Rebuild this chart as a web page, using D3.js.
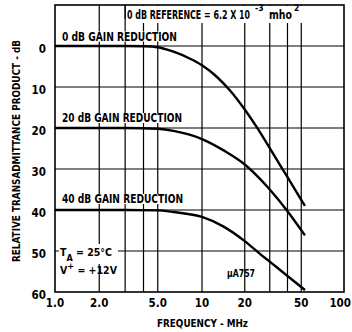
<!DOCTYPE html>
<html><head><meta charset="utf-8">
<script src="https://cdn.jsdelivr.net/npm/d3@7/dist/d3.min.js"></script>
<style>
html,body{margin:0;padding:0;background:#fff;}
svg{display:block;}
text{font-family:"Liberation Sans Narrow","DejaVu Sans Condensed","Arial Narrow",sans-serif;font-weight:bold;fill:#000;}
</style></head>
<body><svg id="c" width="352" height="332"></svg>
<script>
// ---- data ----
const xTicks = [1, 2, 5, 10, 20, 50, 100];
const xTickLabels = ["1.0", "2.0", "5.0", "10", "20", "50", "100"];
const xGrid = [2, 3, 4, 5, 10, 20, 30, 40, 50];
const yTicks = [0, 10, 20, 30, 40, 50, 60];
const yGrid = [0, 10, 20, 30, 40, 50];

const freq0 = [1, 3, 4, 5, 6.4, 8.3, 10, 12.7, 15.7, 20, 24.3, 30, 40, 53.1];
const db0   = [0, 0, 0.05, 0.3, 1.4, 3.1, 4.7, 7.5, 10.8, 15.5, 19.8, 24.9, 32.0, 39.0];
const freq20 = [1, 3, 5, 6.4, 10, 14.1, 20, 25.6, 30, 40, 53.1];
const db20   = [20, 20, 20.2, 20.7, 22.7, 25.4, 28.9, 32.4, 35.0, 40.3, 46.2];
const freq40 = [1, 3, 5, 6.4, 10, 14.1, 20, 25.6, 30, 40, 53.1];
const db40   = [40, 40, 40.1, 40.5, 41.7, 44.0, 47.6, 50.7, 52.6, 56.1, 59.5];

const curveLabels = ["0 dB GAIN REDUCTION", "20 dB GAIN REDUCTION", "40 dB GAIN REDUCTION"];

// ---- layout ----
const svg = d3.select("#c");
const L = 55, R = 344, T = 5, B = 292;
const x = d3.scaleLog().domain([1, 10, 100]).range([L, 202, R]);
const y = d3.scaleLinear().domain([-10, 60]).range([T, B]);

// grid
const g = svg.append("g");
g.selectAll("line.v").data(xGrid).enter().append("line")
  .attr("x1", d => x(d)).attr("x2", d => x(d)).attr("y1", T).attr("y2", B)
  .attr("stroke", "#000").attr("stroke-width", 1.2);
g.selectAll("line.h").data(yGrid).enter().append("line")
  .attr("x1", L).attr("x2", R).attr("y1", d => y(d)).attr("y2", d => y(d))
  .attr("stroke", "#000").attr("stroke-width", 1.2);

// frame
svg.append("rect").attr("x", L).attr("y", T).attr("width", R - L).attr("height", B - T)
  .attr("fill", "none").attr("stroke", "#000").attr("stroke-width", 1.6);

// curves
const line = d3.line().x(d => x(d[0])).y(d => y(d[1])).curve(d3.curveMonotoneX);
[[freq0, db0], [freq20, db20], [freq40, db40]].forEach(([f, v]) => {
  svg.append("path").datum(f.map((fv, i) => [fv, v[i]]))
    .attr("d", line).attr("fill", "none").attr("stroke", "#000").attr("stroke-width", 2.4)
    .attr("stroke-linejoin", "round");
});

// curve labels with white backing
const labelY = [40.5, 122, 203];
const labelW = [115, 120, 121];
curveLabels.forEach((t, i) => {
  svg.append("rect").attr("x", 61).attr("y", labelY[i] - 9).attr("width", labelW[i] + 2).attr("height", 10).attr("fill", "#fff");
  svg.append("text").attr("x", 62).attr("y", labelY[i]).attr("font-size", 11.5)
    .attr("textLength", labelW[i]).attr("lengthAdjust", "spacingAndGlyphs").text(t);
});

// reference box
svg.append("rect").attr("x", 126).attr("y", T + 1).attr("width", 180).attr("height", 17).attr("fill", "#fff");
svg.append("line").attr("x1", x(3)).attr("x2", x(3)).attr("y1", T).attr("y2", 19).attr("stroke", "#000").attr("stroke-width", 1.2);
const ref = svg.append("text").attr("x", 127).attr("y", 18.5).attr("font-size", 11.5);
ref.append("tspan").attr("textLength", 123).attr("lengthAdjust", "spacingAndGlyphs").text("0 dB REFERENCE = 6.2 X 10");
ref.append("tspan").attr("x", 255).attr("dy", -8).attr("font-size", 8.5).text("-3");
ref.append("tspan").attr("x", 269).attr("dy", 8).attr("textLength", 23).attr("lengthAdjust", "spacingAndGlyphs").text("mho");
ref.append("tspan").attr("x", 294).attr("dy", -8).attr("font-size", 8.5).text("2");

// conditions
svg.append("rect").attr("x", 59).attr("y", 244).attr("width", 59).attr("height", 20).attr("fill", "#fff");
const ta = svg.append("text").attr("x", 60).attr("y", 255.5).attr("font-size", 10.5);
ta.append("tspan").text("T");
ta.append("tspan").attr("dy", 5).attr("font-size", 9).text("A");
ta.append("tspan").attr("dy", -5).text(" = 25°C");
const vp = svg.append("text").attr("x", 60).attr("y", 274).attr("font-size", 10.5);
vp.append("tspan").text("V");
vp.append("tspan").attr("dy", -5).attr("font-size", 9).text("+");
vp.append("tspan").attr("dy", 5).text(" = +12V");
svg.append("text").attr("x", 227).attr("y", 277).attr("font-size", 10.5)
  .attr("textLength", 28).attr("lengthAdjust", "spacingAndGlyphs").text("\u00b5A757");

// y tick labels
svg.selectAll("text.yt").data(yTicks).enter().append("text")
  .attr("x", 46).attr("y", d => y(d) + 6.5).attr("text-anchor", "end").attr("font-size", 11.5)
  .text(d => d);

// x tick labels
svg.selectAll("text.xt").data(xTicks).enter().append("text")
  .attr("x", d => d === 100 ? 351 : x(d)).attr("y", 307)
  .attr("text-anchor", d => d === 100 ? "end" : "middle").attr("font-size", 11.5)
  .text((d, i) => xTickLabels[i]);

// axis titles
svg.append("text").attr("x", 157).attr("y", 327).attr("font-size", 11)
  .attr("textLength", 91).attr("lengthAdjust", "spacingAndGlyphs").text("FREQUENCY - MHz");
svg.append("text").attr("transform", "translate(20,151) rotate(-90)").attr("text-anchor", "middle")
  .attr("font-size", 10.5).attr("textLength", 222).attr("lengthAdjust", "spacingAndGlyphs")
  .text("RELATIVE TRANSADMITTANCE PRODUCT - dB");
</script></body></html>
